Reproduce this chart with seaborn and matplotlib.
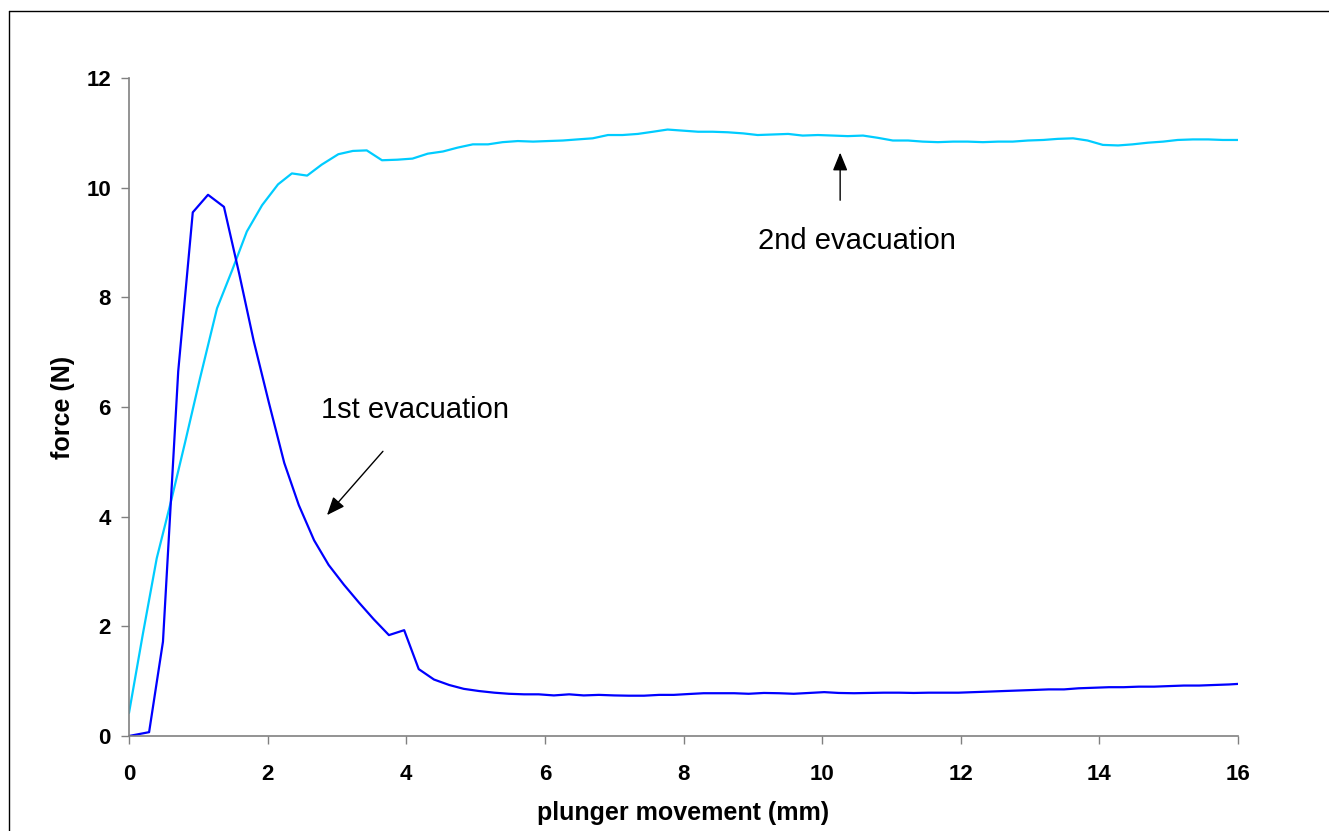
import matplotlib
matplotlib.use("Agg")
import matplotlib.pyplot as plt
import seaborn as sns
import pandas as pd
from matplotlib.lines import Line2D

# 1st evacuation (dark blue)
x_first = [0.00, 0.29, 0.49, 0.71, 0.92, 1.14,
           1.37, 1.59, 1.80, 2.02, 2.24, 2.45, 2.67, 2.88, 3.10, 3.32,
           3.53, 3.75, 3.97, 4.18, 4.40, 4.62, 4.83, 5.05, 5.27, 5.48,
           5.70, 5.91, 6.13, 6.35, 6.56, 6.78, 7.00, 7.21, 7.43, 7.65,
           7.86, 8.08, 8.29, 8.51, 8.73, 8.94, 9.16, 9.38, 9.59, 9.81,
           10.03, 10.24, 10.46, 10.67, 10.89, 11.11, 11.32, 11.54, 11.76, 11.97,
           12.19, 12.41, 12.62, 12.84, 13.06, 13.27, 13.49, 13.70, 13.92, 14.14,
           14.35, 14.57, 14.79, 15.00, 15.22, 15.44, 15.65, 15.87, 16.00]
force_first = [0.00, 0.07, 1.72, 6.65, 9.55, 9.87,
               9.65, 8.43, 7.20, 6.07, 4.98, 4.21, 3.57, 3.12, 2.76, 2.43,
               2.13, 1.84, 1.93, 1.22, 1.03, 0.93, 0.86, 0.82, 0.79, 0.77,
               0.76, 0.76, 0.74, 0.76, 0.74, 0.75, 0.74, 0.735, 0.735, 0.75,
               0.75, 0.766, 0.78, 0.78, 0.78, 0.77, 0.785, 0.78, 0.77, 0.785,
               0.80, 0.785, 0.78, 0.785, 0.79, 0.79, 0.785, 0.79, 0.79, 0.79,
               0.80, 0.81, 0.82, 0.83, 0.84, 0.85, 0.85, 0.87, 0.88, 0.89,
               0.89, 0.90, 0.90, 0.91, 0.92, 0.92, 0.93, 0.94, 0.95]

# 2nd evacuation (sky blue)
x_second = [0.00, 0.20, 0.40, 0.61, 0.81, 1.02, 1.27, 1.49, 1.70, 1.92,
            2.15, 2.35, 2.57, 2.78, 3.02, 3.23, 3.43, 3.65, 3.87, 4.09,
            4.31, 4.53, 4.74, 4.96, 5.18, 5.39, 5.61, 5.83, 6.04, 6.26,
            6.47, 6.69, 6.91, 7.12, 7.34, 7.56, 7.77,
            7.99, 8.21, 8.42, 8.64, 8.86, 9.07, 9.29, 9.51, 9.72, 9.94,
            10.16, 10.37, 10.59, 10.80, 11.02, 11.24, 11.45, 11.67, 11.89, 12.10,
            12.32, 12.54, 12.75, 12.97, 13.19, 13.40, 13.62, 13.83, 14.05, 14.27,
            14.48, 14.70, 14.92, 15.13, 15.35, 15.57, 15.78, 16.00]
force_second = [0.42, 1.86, 3.24, 4.30, 5.36, 6.50, 7.80, 8.50, 9.20, 9.68,
                10.06, 10.26, 10.22, 10.42, 10.61, 10.67, 10.68, 10.50, 10.51, 10.53,
                10.62, 10.66, 10.73, 10.79, 10.79, 10.83, 10.85, 10.84, 10.85, 10.86,
                10.88, 10.90, 10.96, 10.96, 10.98, 11.02, 11.06,
                11.04, 11.02, 11.02, 11.01, 10.99, 10.96, 10.97, 10.98, 10.95, 10.96,
                10.95, 10.94, 10.95, 10.91, 10.86, 10.86, 10.84, 10.83, 10.84, 10.84,
                10.83, 10.84, 10.84, 10.86, 10.87, 10.89, 10.90, 10.86, 10.78, 10.77,
                10.79, 10.82, 10.84, 10.87, 10.88, 10.88, 10.87, 10.87]

x_ticks = [0, 2, 4, 6, 8, 10, 12, 14, 16]
y_ticks = [0, 2, 4, 6, 8, 10, 12]

df1 = pd.DataFrame({"x": x_first, "force": force_first})
df2 = pd.DataFrame({"x": x_second, "force": force_second})

sns.set_style("white")
plt.rcParams['font.family'] = ['Liberation Sans', 'DejaVu Sans']
plt.rcParams['text.color'] = 'black'
plt.rcParams['axes.labelcolor'] = 'black'
plt.rcParams['xtick.color'] = 'black'
plt.rcParams['ytick.color'] = 'black'

fig = plt.figure(figsize=(13.29, 8.31), dpi=100)
ax = fig.add_axes([129 / 1329, 1 - 736 / 831, (1238 - 129) / 1329, (736 - 78) / 831])

sns.lineplot(data=df2, x="x", y="force", color="#00CCFF", lw=1.6, ax=ax)
sns.lineplot(data=df1, x="x", y="force", color="#0000FF", lw=1.6, ax=ax)

ax.set_xlim(0, 16)
ax.set_ylim(0, 12)
ax.set_xticks(x_ticks)
ax.set_yticks(y_ticks)
ax.set_xticklabels([str(t) for t in x_ticks], fontsize=16, fontweight="bold")
ax.set_yticklabels([str(t) for t in y_ticks], fontsize=16, fontweight="bold")
ax.tick_params(axis="both", direction="out", length=6, width=1, color="#808080",
               labelcolor="black", bottom=True, left=True)
ax.tick_params(axis="y", pad=7)
ax.tick_params(axis="x", pad=14)

for s in ["top", "right"]:
    ax.spines[s].set_visible(False)
for s in ["left", "bottom"]:
    ax.spines[s].set_color("#808080")
    ax.spines[s].set_linewidth(1.2)

ax.set_xlabel("plunger movement (mm)", fontsize=18, fontweight="bold", labelpad=12)
ax.set_ylabel("force (N)", fontsize=18, fontweight="bold", labelpad=8)

# annotations
arrow_style = dict(arrowstyle="-|>,head_length=1.1,head_width=0.45",
                   color="black", lw=1)
ax.text(4.13, 5.95, "1st evacuation", fontsize=21, ha="center", va="center")
ax.annotate("", xy=(2.83, 3.99), xytext=(3.69, 5.23), arrowprops=arrow_style)
ax.text(10.5, 9.03, "2nd evacuation", fontsize=21, ha="center", va="center")
ax.annotate("", xy=(10.26, 10.69), xytext=(10.26, 9.72), arrowprops=arrow_style)

# outer frame (cut off at right and bottom)
fig.add_artist(Line2D([8.5 / 1329, 8.5 / 1329], [0, 1 - 11 / 831],
                      transform=fig.transFigure, color="black", lw=1))
fig.add_artist(Line2D([8.5 / 1329, 1], [1 - 11 / 831, 1 - 11 / 831],
                      transform=fig.transFigure, color="black", lw=1))

fig.savefig("out.png", dpi=100)
